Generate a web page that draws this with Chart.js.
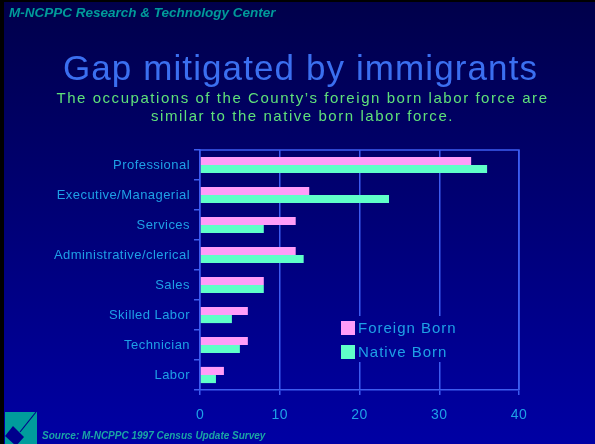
<!DOCTYPE html>
<html>
<head>
<meta charset="utf-8">
<script src="https://cdn.jsdelivr.net/npm/chart.js@4.4.0/dist/chart.umd.min.js"></script>
<style>
  html, body { margin: 0; padding: 0; }
  body { width: 595px; height: 444px; position: relative; overflow: hidden; background: #000050; font-family: "Liberation Sans", Arial, sans-serif; }
  #chart { position: absolute; left: 0; top: 0; }
  .txt { position: absolute; white-space: nowrap; }
  #header { left: 9px; top: 5px; font-size: 13.5px; font-weight: bold; font-style: italic; color: #009a9a; }
  #title { left: 3px; width: 595px; top: 48px; text-align: center; font-size: 35px; color: #3b6ff0; letter-spacing: 1.1px; }
  #subtitle { left: 5px; width: 595px; top: 89px; text-align: center; font-size: 15px; line-height: 18px; color: #5fe07a; letter-spacing: 1.55px; }
  #source { left: 42px; top: 430px; font-size: 10px; font-weight: bold; font-style: italic; color: #1aa5a5; }
  .edge-l { position: absolute; left: 0; top: 0; width: 4px; height: 444px; background: #000; }
  .edge-t { position: absolute; left: 0; top: 0; width: 595px; height: 2px; background: #000; }
</style>
</head>
<body>
<canvas id="chart" width="595" height="444"></canvas>
<div class="edge-l"></div>
<div class="edge-t"></div>
<div class="txt" id="header">M-NCPPC Research &amp; Technology Center</div>
<div class="txt" id="title">Gap mitigated by immigrants</div>
<div class="txt" id="subtitle">The occupations of the County’s foreign born labor force are<br>similar to the native born labor force.</div>
<div class="txt" id="source">Source: M-NCPPC 1997 Census Update Survey</div>
<script>
// Occupations, percent of labor force
const occupations = ['Professional', 'Executive/Managerial', 'Services', 'Administrative/clerical',
	'Sales', 'Skilled Labor', 'Technician', 'Labor'];
const foreignBorn = [34, 13.7, 12, 12, 8, 6, 6, 3];
const nativeBorn = [36, 23.7, 8, 13, 8, 4, 5, 2];
const xTicks = [0, 10, 20, 30, 40];

const lineBlue = '#3d5cf0';
const labelBlue = '#1ea0e6';

function bgGradient(ctx) {
	const g = ctx.createLinearGradient(0, 0, 0, 444);
	g.addColorStop(0, '#00004a');
	g.addColorStop(1, '#0000a4');
	return g;
}

// Background, plot frame, inset legend and logo
const decor = {
	id: 'decor',
	beforeDraw(chart) {
		const ctx = chart.ctx;
		ctx.fillStyle = bgGradient(ctx);
		ctx.fillRect(0, 0, chart.width, chart.height);
		// wide letter spacing for the axis labels (kept in state for the scales)
		ctx.letterSpacing = '0.45px';
	},
	afterDraw(chart) {
		const ctx = chart.ctx;
		const a = chart.chartArea;
		ctx.save();
		ctx.strokeStyle = lineBlue;
		ctx.lineWidth = 1.5;
		ctx.beginPath();
		ctx.moveTo(a.left, a.top);
		ctx.lineTo(a.right, a.top);
		ctx.lineTo(a.right, a.bottom);
		ctx.stroke();

		// legend box
		ctx.fillStyle = bgGradient(ctx);
		ctx.fillRect(336, 316, 132, 46);
		ctx.font = '15px "Liberation Sans", Arial, sans-serif';
		ctx.textBaseline = 'middle';
		chart.data.datasets.forEach((ds, i) => {
			const y = 328 + i * 24;
			ctx.fillStyle = ds.backgroundColor;
			ctx.fillRect(341, y - 7, 14, 14);
			ctx.fillStyle = labelBlue;
			ctx.letterSpacing = '1px';
			ctx.fillText(ds.label, 358, y + 1);
		});

		// logo
		ctx.fillStyle = '#009c9c';
		ctx.fillRect(5, 412, 32, 32);
		ctx.fillStyle = '#00008c';
		ctx.beginPath();
		ctx.moveTo(5, 436);
		ctx.lineTo(13, 426);
		ctx.lineTo(24, 437);
		ctx.lineTo(16, 446);
		ctx.closePath();
		ctx.fill();
		ctx.strokeStyle = '#00008c';
		ctx.lineWidth = 1.2;
		ctx.beginPath();
		ctx.moveTo(20, 432);
		ctx.lineTo(36, 412);
		ctx.stroke();
		ctx.restore();
	}
};

new Chart(document.getElementById('chart'), {
	type: 'bar',
	data: {
		labels: occupations,
		datasets: [
			{ label: 'Foreign Born', data: foreignBorn, backgroundColor: '#ff9cf8', categoryPercentage: 0.54, barPercentage: 1 },
			{ label: 'Native Born', data: nativeBorn, backgroundColor: '#5fffc8', categoryPercentage: 0.54, barPercentage: 1 }
		]
	},
	options: {
		indexAxis: 'y',
		responsive: false,
		animation: false,
		layout: { padding: { top: 150, right: 76, left: 0, bottom: 0 } },
		plugins: { legend: { display: false }, tooltip: { enabled: false } },
		scales: {
			x: {
				min: 0, max: 40,
				afterBuildTicks: (s) => { s.ticks = xTicks.map(v => ({ value: v })); },
				afterFit: (s) => { s.height = 54; },
				grid: { color: lineBlue, lineWidth: 1.5, tickLength: 5 },
				border: { color: lineBlue, width: 1.5 },
				ticks: { color: labelBlue, padding: 12, font: { size: 14, family: '"Liberation Sans", Arial, sans-serif' } }
			},
			y: {
				afterFit: (s) => { s.width = 200; },
				grid: { color: lineBlue, lineWidth: 1.5, tickLength: 6, drawOnChartArea: false, offset: true },
				border: { color: lineBlue, width: 1.5 },
				ticks: { color: labelBlue, padding: 4, font: { size: 13, family: '"Liberation Sans", Arial, sans-serif' } }
			}
		}
	},
	plugins: [decor]
});
</script>
</body>
</html>
